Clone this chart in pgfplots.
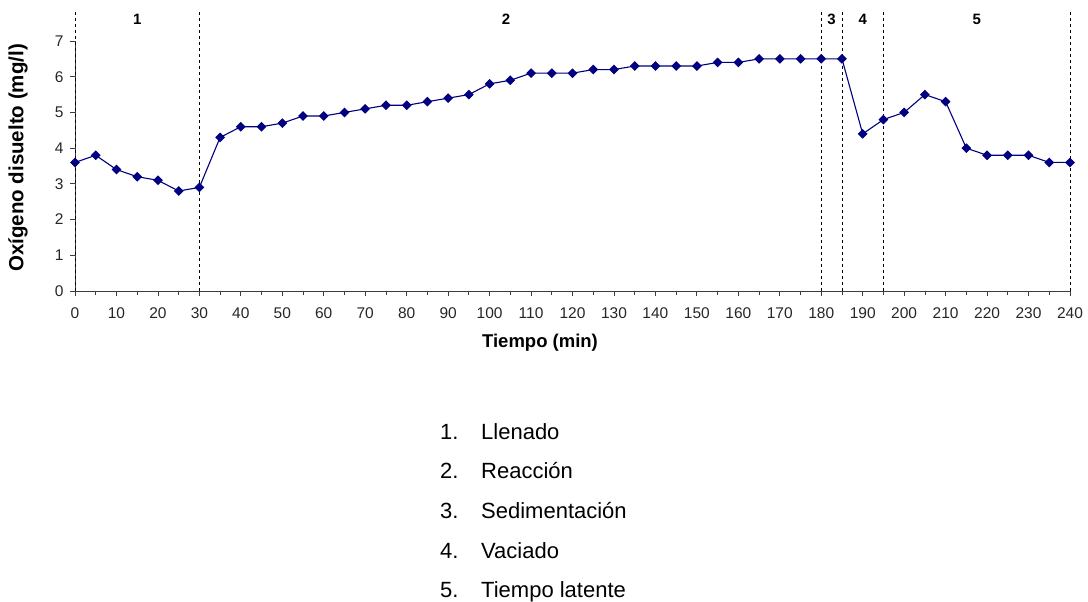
\documentclass[border=0pt]{standalone}
\usepackage{fontspec}
\setmainfont{Liberation Sans}
\usepackage{pgfplots}
\pgfplotsset{compat=1.18}
\definecolor{navyline}{RGB}{0,0,128}
\definecolor{axgray}{RGB}{60,60,60}
\begin{document}
\begin{tikzpicture}
\path[use as bounding box] (-75pt,-311pt) rectangle (1013pt,291pt);
\begin{axis}[
  at={(0pt,0pt)}, anchor=south west,
  scale only axis, width=995pt, height=250pt,
  xmin=0, xmax=240, ymin=0, ymax=7,
  axis lines*=left,
  axis line style={axgray, line width=0.8pt},
  xtick={0,10,...,240}, ytick={0,1,...,7},
  minor x tick num=1,
  tick align=outside,
  major tick length=5pt, minor tick length=4pt,
  tick style={axgray, line width=0.8pt},
  every tick label/.append style={font=\fontsize{15.5}{18}\selectfont, text=black!85},
  /pgf/number format/assume math mode=true,
  xticklabel style={yshift=-8pt},
  yticklabel style={xshift=-3pt},
  clip=false,
]
\addplot[black, dashed, line width=0.9pt] coordinates {(0,0) (0,7.8)};
\addplot[black, dashed, line width=0.9pt] coordinates {(30,0) (30,7.8)};
\addplot[black, dashed, line width=0.9pt] coordinates {(180,0) (180,7.8)};
\addplot[black, dashed, line width=0.9pt] coordinates {(185,0) (185,7.8)};
\addplot[black, dashed, line width=0.9pt] coordinates {(195,0) (195,7.8)};
\addplot[black, dashed, line width=0.9pt] coordinates {(240,0) (240,7.8)};
\addplot[navyline, line width=1.1pt, mark=square*, mark size=2.9pt, mark options={rotate=45, fill=navyline, draw=navyline}] coordinates {
(0,3.6) (5,3.8) (10,3.4) (15,3.2) (20,3.1) (25,2.8) (30,2.9)
(35,4.3) (40,4.6) (45,4.6) (50,4.7) (55,4.9) (60,4.9) (65,5.0)
(70,5.1) (75,5.2) (80,5.2) (85,5.3) (90,5.4) (95,5.5) (100,5.8)
(105,5.9) (110,6.1) (115,6.1) (120,6.1) (125,6.2) (130,6.2) (135,6.3)
(140,6.3) (145,6.3) (150,6.3) (155,6.4) (160,6.4) (165,6.5) (170,6.5)
(175,6.5) (180,6.5) (185,6.5) (190,4.4) (195,4.8) (200,5.0) (205,5.5)
(210,5.3) (215,4.0) (220,3.8) (225,3.8) (230,3.8) (235,3.6) (240,3.6)
};
\node[font=\fontsize{15}{18}\selectfont\bfseries] at (axis cs:15,7.6) {1};
\node[font=\fontsize{15}{18}\selectfont\bfseries] at (axis cs:104,7.6) {2};
\node[font=\fontsize{15}{18}\selectfont\bfseries] at (axis cs:182.5,7.6) {3};
\node[font=\fontsize{15}{18}\selectfont\bfseries] at (axis cs:190,7.6) {4};
\node[font=\fontsize{15}{18}\selectfont\bfseries] at (axis cs:217.5,7.6) {5};
\end{axis}
\node[font=\fontsize{18.5}{22}\selectfont\bfseries] at (465pt,-52pt) {Tiempo (min)};
\node[font=\fontsize{20.5}{24}\selectfont\bfseries, rotate=90] at (-57pt,133pt) {Oxígeno disuelto (mg/l)};
\foreach \n/\t/\yy in {1/Llenado/-149, 2/Reacción/-188, 3/Sedimentación/-228, 4/Vaciado/-267, 5/Tiempo latente/-306}{
  \node[anchor=base west, font=\fontsize{22}{26}\selectfont, inner sep=0pt] at (365pt,\yy pt) {\n.};
  \node[anchor=base west, font=\fontsize{22}{26}\selectfont, inner sep=0pt] at (406pt,\yy pt) {\t};
}
\end{tikzpicture}
\end{document}
